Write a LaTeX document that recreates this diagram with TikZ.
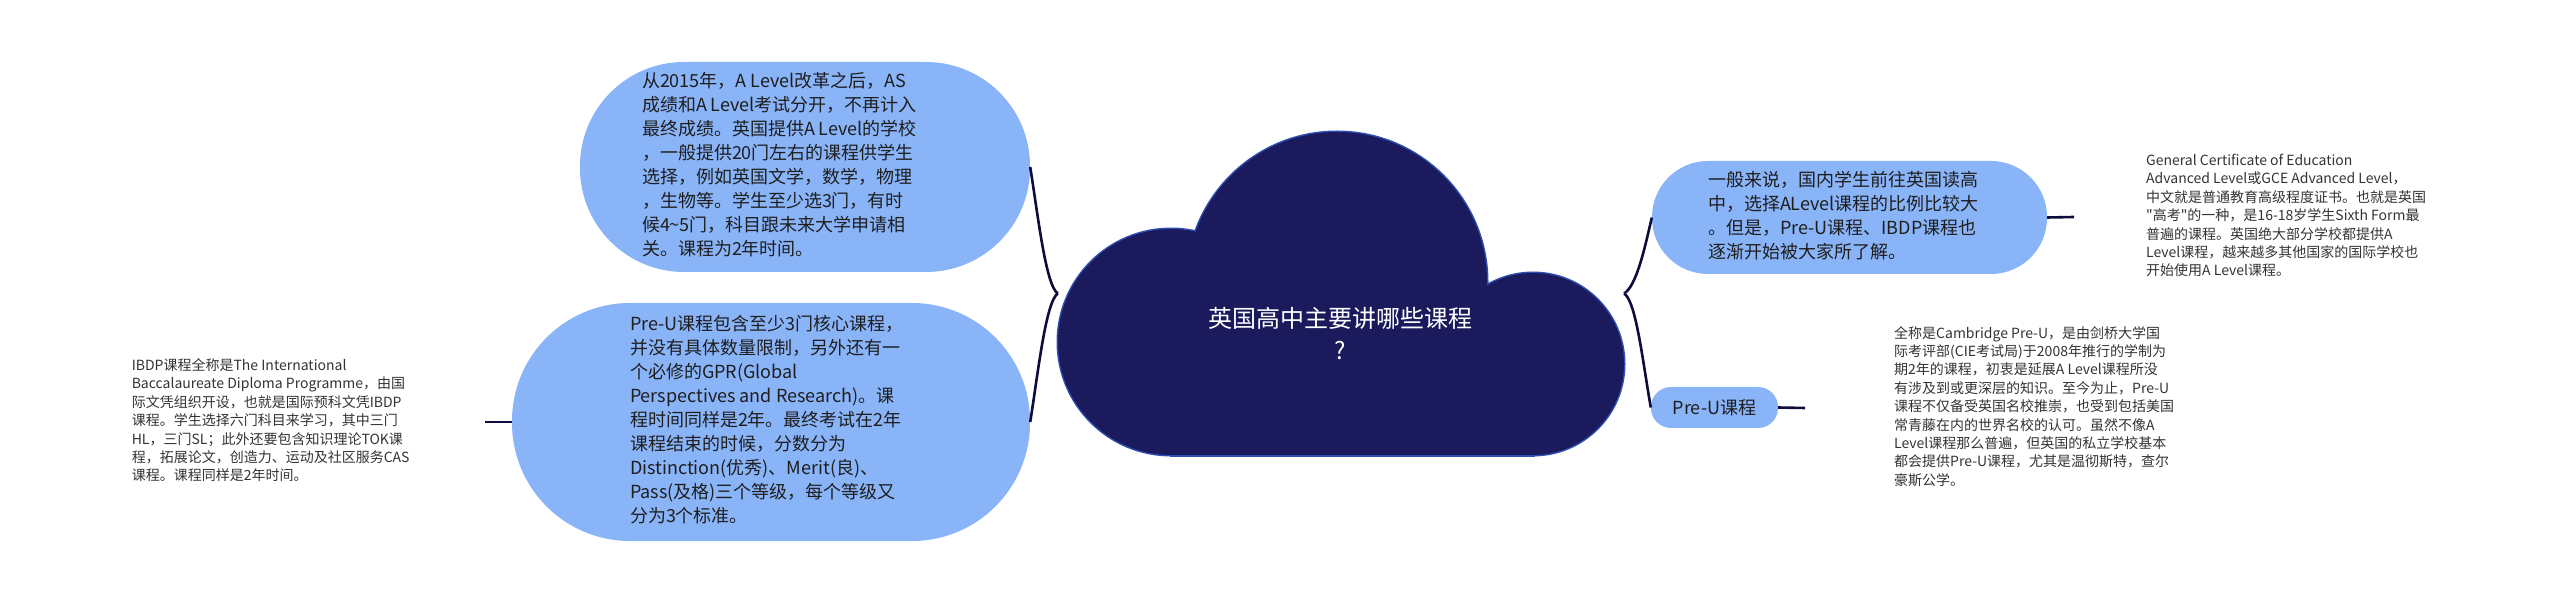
\documentclass[tikz,border=0pt]{standalone}
\usepackage{fontspec}
\setmainfont{Noto Sans CJK SC}[Ligatures=TeXOff]
\usetikzlibrary{calc}
\definecolor{navy}{HTML}{1A1A5C}
\definecolor{cloudedge}{HTML}{2E4FB0}
\definecolor{bubblefill}{HTML}{8AB4F8}
\definecolor{linkc}{HTML}{0D0D3D}
\definecolor{txt}{HTML}{1E1E1E}
\definecolor{leaftxt}{HTML}{333333}
\newcommand{\mainfs}{\fontsize{18pt}{24pt}\selectfont}
\newcommand{\leaffs}{\fontsize{14pt}{18.4pt}\selectfont}
\begin{document}
\begin{tikzpicture}[x=1pt,y=-1pt,
  bubble/.style={fill=bubblefill, draw=none, inner sep=0pt, text=txt, font=\mainfs},
  leaf/.style={inner ysep=0pt, text=leaftxt, font=\leaffs},
  link/.style={draw=linkc, line width=2.6pt},
  cloudpart/.style={draw=cloudedge, line width=3pt, fill=navy}]
\useasboundingbox (0,0) rectangle (2560,601);

% central cloud
\path[cloudpart] (1171,342) circle [radius=113pt];
\path[cloudpart] (1337,282) circle [radius=150pt];
\path[cloudpart] (1533,364) circle [radius=91pt];
\path[cloudpart] (1171,342) rectangle (1533,455);
\fill[navy] (1171,342) circle [radius=113pt];
\fill[navy] (1337,282) circle [radius=150pt];
\fill[navy] (1533,364) circle [radius=91pt];
\fill[navy] (1171,342) rectangle (1533,455);
\node[minimum width=566pt, minimum height=323pt, inner sep=0pt] (root) at (1341,293.5) {};
\node[text=white, font=\fontsize{24pt}{32pt}\selectfont, inner sep=0pt] (rootlabel) at (1340,337)
  {\begin{tabular}{@{}c@{}}英国高中主要讲哪些课程\\?\end{tabular}};

% left branches
\node[bubble, minimum width=450pt, minimum height=210pt, rounded corners=104pt] (lt) at (805,167)
  {\makebox[326pt][l]{\begin{tabular}{@{}l@{}}
  从2015年，A Level改革之后，AS\\
  成绩和A Level考试分开，不再计入\\
  最终成绩。英国提供A Level的学校\\
  ，一般提供20门左右的课程供学生\\
  选择，例如英国文学，数学，物理\\
  ，生物等。学生至少选3门，有时\\
  候4\textasciitilde5门，科目跟未来大学申请相\\
  关。课程为2年时间。\end{tabular}}};

\node[bubble, minimum width=518pt, minimum height=238pt, rounded corners=118pt] (lb) at (771,422)
  {\makebox[282pt][l]{\begin{tabular}{@{}l@{}}
  Pre-U课程包含至少3门核心课程，\\
  并没有具体数量限制，另外还有一\\
  个必修的GPR(Global\\
  Perspectives and Research)。课\\
  程时间同样是2年。最终考试在2年\\
  课程结束的时候，分数分为\\
  Distinction(优秀)、Merit(良)、\\
  Pass(及格)三个等级，每个等级又\\
  分为3个标准。\end{tabular}}};

\node[leaf, anchor=east, inner xsep=72pt] (ibdp) at (485,422)
  {\makebox[281pt][l]{\begin{tabular}{@{}l@{}}
  IBDP课程全称是The International\\
  Baccalaureate Diploma Programme，由国\\
  际文凭组织开设，也就是国际预科文凭IBDP\\
  课程。学生选择六门科目来学习，其中三门\\
  HL，三门SL；此外还要包含知识理论TOK课\\
  程，拓展论文，创造力、运动及社区服务CAS\\
  课程。课程同样是2年时间。\end{tabular}}};

% right branches
\node[bubble, minimum width=395pt, minimum height=113pt, rounded corners=56pt] (rt) at (1849.5,217.5)
  {\makebox[283pt][l]{\begin{tabular}{@{}l@{}}
  一般来说，国内学生前往英国读高\\
  中，选择ALevel课程的比例比较大\\
  。但是，Pre-U课程、IBDP课程也\\
  逐渐开始被大家所了解。\end{tabular}}};

\node[bubble, minimum width=127pt, minimum height=41pt, rounded corners=20pt] (pu) at (1714.5,407.5)
  {Pre-U课程};

\node[leaf, anchor=west, inner xsep=72pt] (gce) at (2074,217)
  {\begin{tabular}{@{}l@{}}
  General Certificate of Education\\
  Advanced Level或GCE Advanced Level，\\
  中文就是普通教育高级程度证书。也就是英国\\
  "高考"的一种，是16-18岁学生Sixth Form最\\
  普遍的课程。英国绝大部分学校都提供A\\
  Level课程，越来越多其他国家的国际学校也\\
  开始使用A Level课程。\end{tabular}};

\node[leaf, anchor=west, inner xsep=89pt] (cam) at (1805,408)
  {\begin{tabular}{@{}l@{}}
  全称是Cambridge Pre-U，是由剑桥大学国\\
  际考评部(CIE考试局)于2008年推行的学制为\\
  期2年的课程，初衷是延展A Level课程所没\\
  有涉及到或更深层的知识。至今为止，Pre-U\\
  课程不仅备受英国名校推崇，也受到包括美国\\
  常青藤在内的世界名校的认可。虽然不像A\\
  Level课程那么普遍，但英国的私立学校基本\\
  都会提供Pre-U课程，尤其是温彻斯特，查尔\\
  豪斯公学。\end{tabular}};

% connectors
\draw[link] (root.west) .. controls +(-12,-8) and +(8,50) .. (lt.east);
\draw[link] (root.west) .. controls +(-12,8) and +(8,-50) .. (lb.east);
\draw[link] (root.east) .. controls +(12,-8) and +(-8,35) .. (rt.west);
\draw[link] (root.east) .. controls +(12,8) and +(-8,-45) .. (pu.west);
\draw[link] (lb.west) -- (ibdp.east);
\draw[link] (rt.east) -- (gce.west);
\draw[link] (pu.east) -- (cam.west);
\end{tikzpicture}
\end{document}
